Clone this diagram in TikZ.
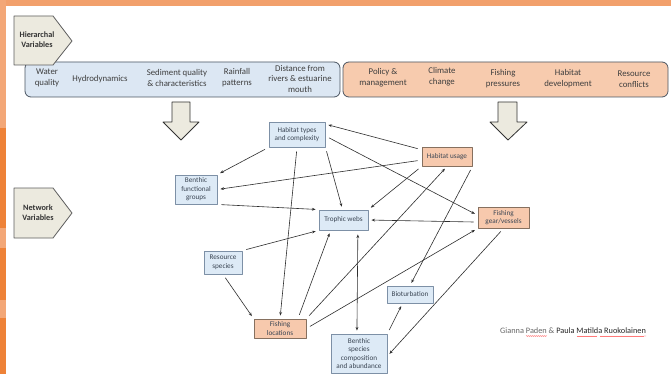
\documentclass[tikz,border=0pt]{standalone}
\usepackage{fontspec}
\setmainfont{Carlito}
\usetikzlibrary{arrows.meta,decorations.pathmorphing}

\definecolor{frametop}{HTML}{F2A06C}
\definecolor{frameleft}{HTML}{EE8238}
\definecolor{framelight}{HTML}{F3A777}
\definecolor{tagfill}{HTML}{ECEADF}
\definecolor{tagedge}{HTML}{5E5E5E}
\definecolor{barblue}{HTML}{DCE7F3}
\definecolor{barorange}{HTML}{F7CBAE}
\definecolor{baredge}{HTML}{4A5562}
\definecolor{bartext}{HTML}{3E3E3E}
\definecolor{netblue}{HTML}{DDEAF6}
\definecolor{netblueedge}{HTML}{7D90A6}
\definecolor{netorange}{HTML}{F7C9AD}
\definecolor{netorangeedge}{HTML}{86705F}
\definecolor{nettext}{HTML}{3B4654}
\definecolor{linkcol}{HTML}{2E2E2E}

\tikzset{
  bartag/.style={text=bartext, align=center, inner sep=0pt,
    font=\fontsize{8.8}{10.8}\selectfont},
  tagtext/.style={text=black!80, align=center, inner sep=0pt,
    font=\fontsize{8.2}{10}\selectfont\bfseries},
  netbox/.style={draw=netblueedge, fill=netblue, line width=0.9pt, text=nettext,
    align=center, inner sep=1pt, font=\fontsize{7.2}{8.6}\selectfont},
  netboxo/.style={netbox, draw=netorangeedge, fill=netorange},
  link/.style={draw=linkcol, line width=0.6pt, shorten >=3pt, shorten <=4pt,
    -{Stealth[length=3.6pt,width=2.8pt]}},
}

\begin{document}
\begin{tikzpicture}[x=1pt, y=-1pt, line join=round]
  \useasboundingbox (0,0) rectangle (671,374);
  % orange frame along the top and the left edge
  \fill[white] (0,0) rectangle (671,374);
  \fill[frametop] (0,0) rectangle (671,6.5);
  \fill[frameleft] (0,0) rectangle (5.5,374);
  \fill[framelight] (0,0) rectangle (5.5,128);
  \fill[framelight] (0,228) rectangle (5.5,248);
  \fill[framelight] (0,300) rectangle (5.5,318);

  % hierarchical variables: the two bars
  \draw[baredge, fill=barblue, line width=0.8pt, rounded corners=6pt]
    (25,62) rectangle (340,97);
  \draw[baredge, fill=barorange, line width=0.8pt, rounded corners=6pt]
    (343,62) rectangle (668,97);
  \foreach \n/\x/\y/\t in {
      wq/47/78/{Water\\quality},
      hy/100/79/{Hydrodynamics},
      sq/177/78/{Sediment quality\\\& characteristics},
      rp/237/78/{Rainfall\\patterns},
      dr/300/79/{Distance from\\rivers \& estuarine\\mouth},
      pm/383/78/{Policy \&\\management},
      cc/442/77/{Climate\\change},
      fp/503/79/{Fishing\\pressures},
      hd/568/79/{Habitat\\development},
      rc/634/79/{Resource\\conflicts}}
    \node[bartag] (\n) at (\x,\y) {\t};

  % the two pentagon tags
  \draw[tagedge, fill=tagfill, line width=0.8pt]
    (14,16) -- (53,16) -- (72,41) -- (53,65) -- (14,65) -- cycle;
  \node[tagtext] (hier) at (37,40) {Hierarchal\\Variables};
  \draw[tagedge, fill=tagfill, line width=0.8pt]
    (14,188) -- (53,188) -- (72,213) -- (53,238) -- (14,238) -- cycle;
  \node[tagtext] (netw) at (38,213) {Network\\Variables};

  % big downward arrows
  \draw[black!80, fill=tagfill, line width=0.8pt]
    (172,102) -- (190,102) -- (190,122) -- (199,122) -- (181,140)
    -- (163,122) -- (172,122) -- cycle;
  \draw[black!80, fill=tagfill, line width=0.8pt]
    (498,102) -- (517,102) -- (517,122) -- (527,122) -- (508,140)
    -- (490,122) -- (498,122) -- cycle;

  % network variables
  \node[netbox, minimum width=56pt, minimum height=25pt] (ht) at (297,134.5)
    {Habitat types\\and complexity};
  \node[netboxo, minimum width=50pt, minimum height=19pt] (hu) at (447,156.5)
    {Habitat usage};
  \node[netbox, minimum width=42pt, minimum height=29pt] (bf) at (196,189.5)
    {Benthic\\functional\\groups};
  \node[netbox, minimum width=49pt, minimum height=20pt] (tw) at (343.5,220)
    {Trophic webs};
  \node[netboxo, minimum width=51pt, minimum height=21pt] (fg) at (503.5,217.5)
    {Fishing\\gear/vessels};
  \node[netbox, minimum width=38pt, minimum height=23pt] (rs) at (223,262.5)
    {Resource\\species};
  \node[netboxo, minimum width=52pt, minimum height=19pt] (fl) at (280,328.5)
    {Fishing\\locations};
  \node[netbox, minimum width=46pt, minimum height=17pt] (bt) at (410,294.5)
    {Bioturbation};
  \node[netbox, minimum width=56pt, minimum height=39pt] (bs) at (359,353.5)
    {Benthic\\species\\composition\\and abundance};

  % links
  \draw[link] (hu.165) -- (ht.20);
  \draw[link] (ht.-3) -- (fg.175);
  \draw[link] (ht.south west) -- (bf.north east);
  \draw[link] (hu.188) -- (bf.east);
  \draw[link] (bf.south east) -- (tw.north west);
  \draw[link] (ht.south east) -- (tw.95);
  \draw[link] (hu.south west) -- (tw.north east);
  \draw[link] (fg.190) -- (tw.east);
  \draw[link] (rs.north east) -- (tw.south west);
  \draw[link] (ht.south) -- (fl.north);
  \draw[link] (rs.south) -- (fl.north west);
  \draw[link] (fl.29) -- (tw.-141);
  \draw[link] (fl.north east) -- (hu.south);
  \draw[link] (fl.east) -- (fg.south west);
  \draw[link, {Stealth[length=3.6pt,width=2.8pt]}-{Stealth[length=3.6pt,width=2.8pt]}]
    (tw.-36.5) -- (bs.96);
  \draw[link] (hu.south east) -- (bt.north);
  \draw[link] (bs.north east) -- (bt.-130);
  \draw[link] (fg.south) -- (bs.-5);

  % credit line
  \node[inner sep=0pt, anchor=base west, font=\fontsize{8.3}{10}\selectfont] (credit)
    at (500,333.5)
    {\textcolor{black!60}{Gianna Paden \&} \textcolor{black!85}{Paula Matilda Ruokolainen}};
  \draw[red!80, line width=0.3pt, decorate,
    decoration={snake, amplitude=0.4pt, segment length=2pt}]
    (526,336) -- (546,336) (577,336) -- (597,336) (600,336) -- (646,336);
\end{tikzpicture}
\end{document}
